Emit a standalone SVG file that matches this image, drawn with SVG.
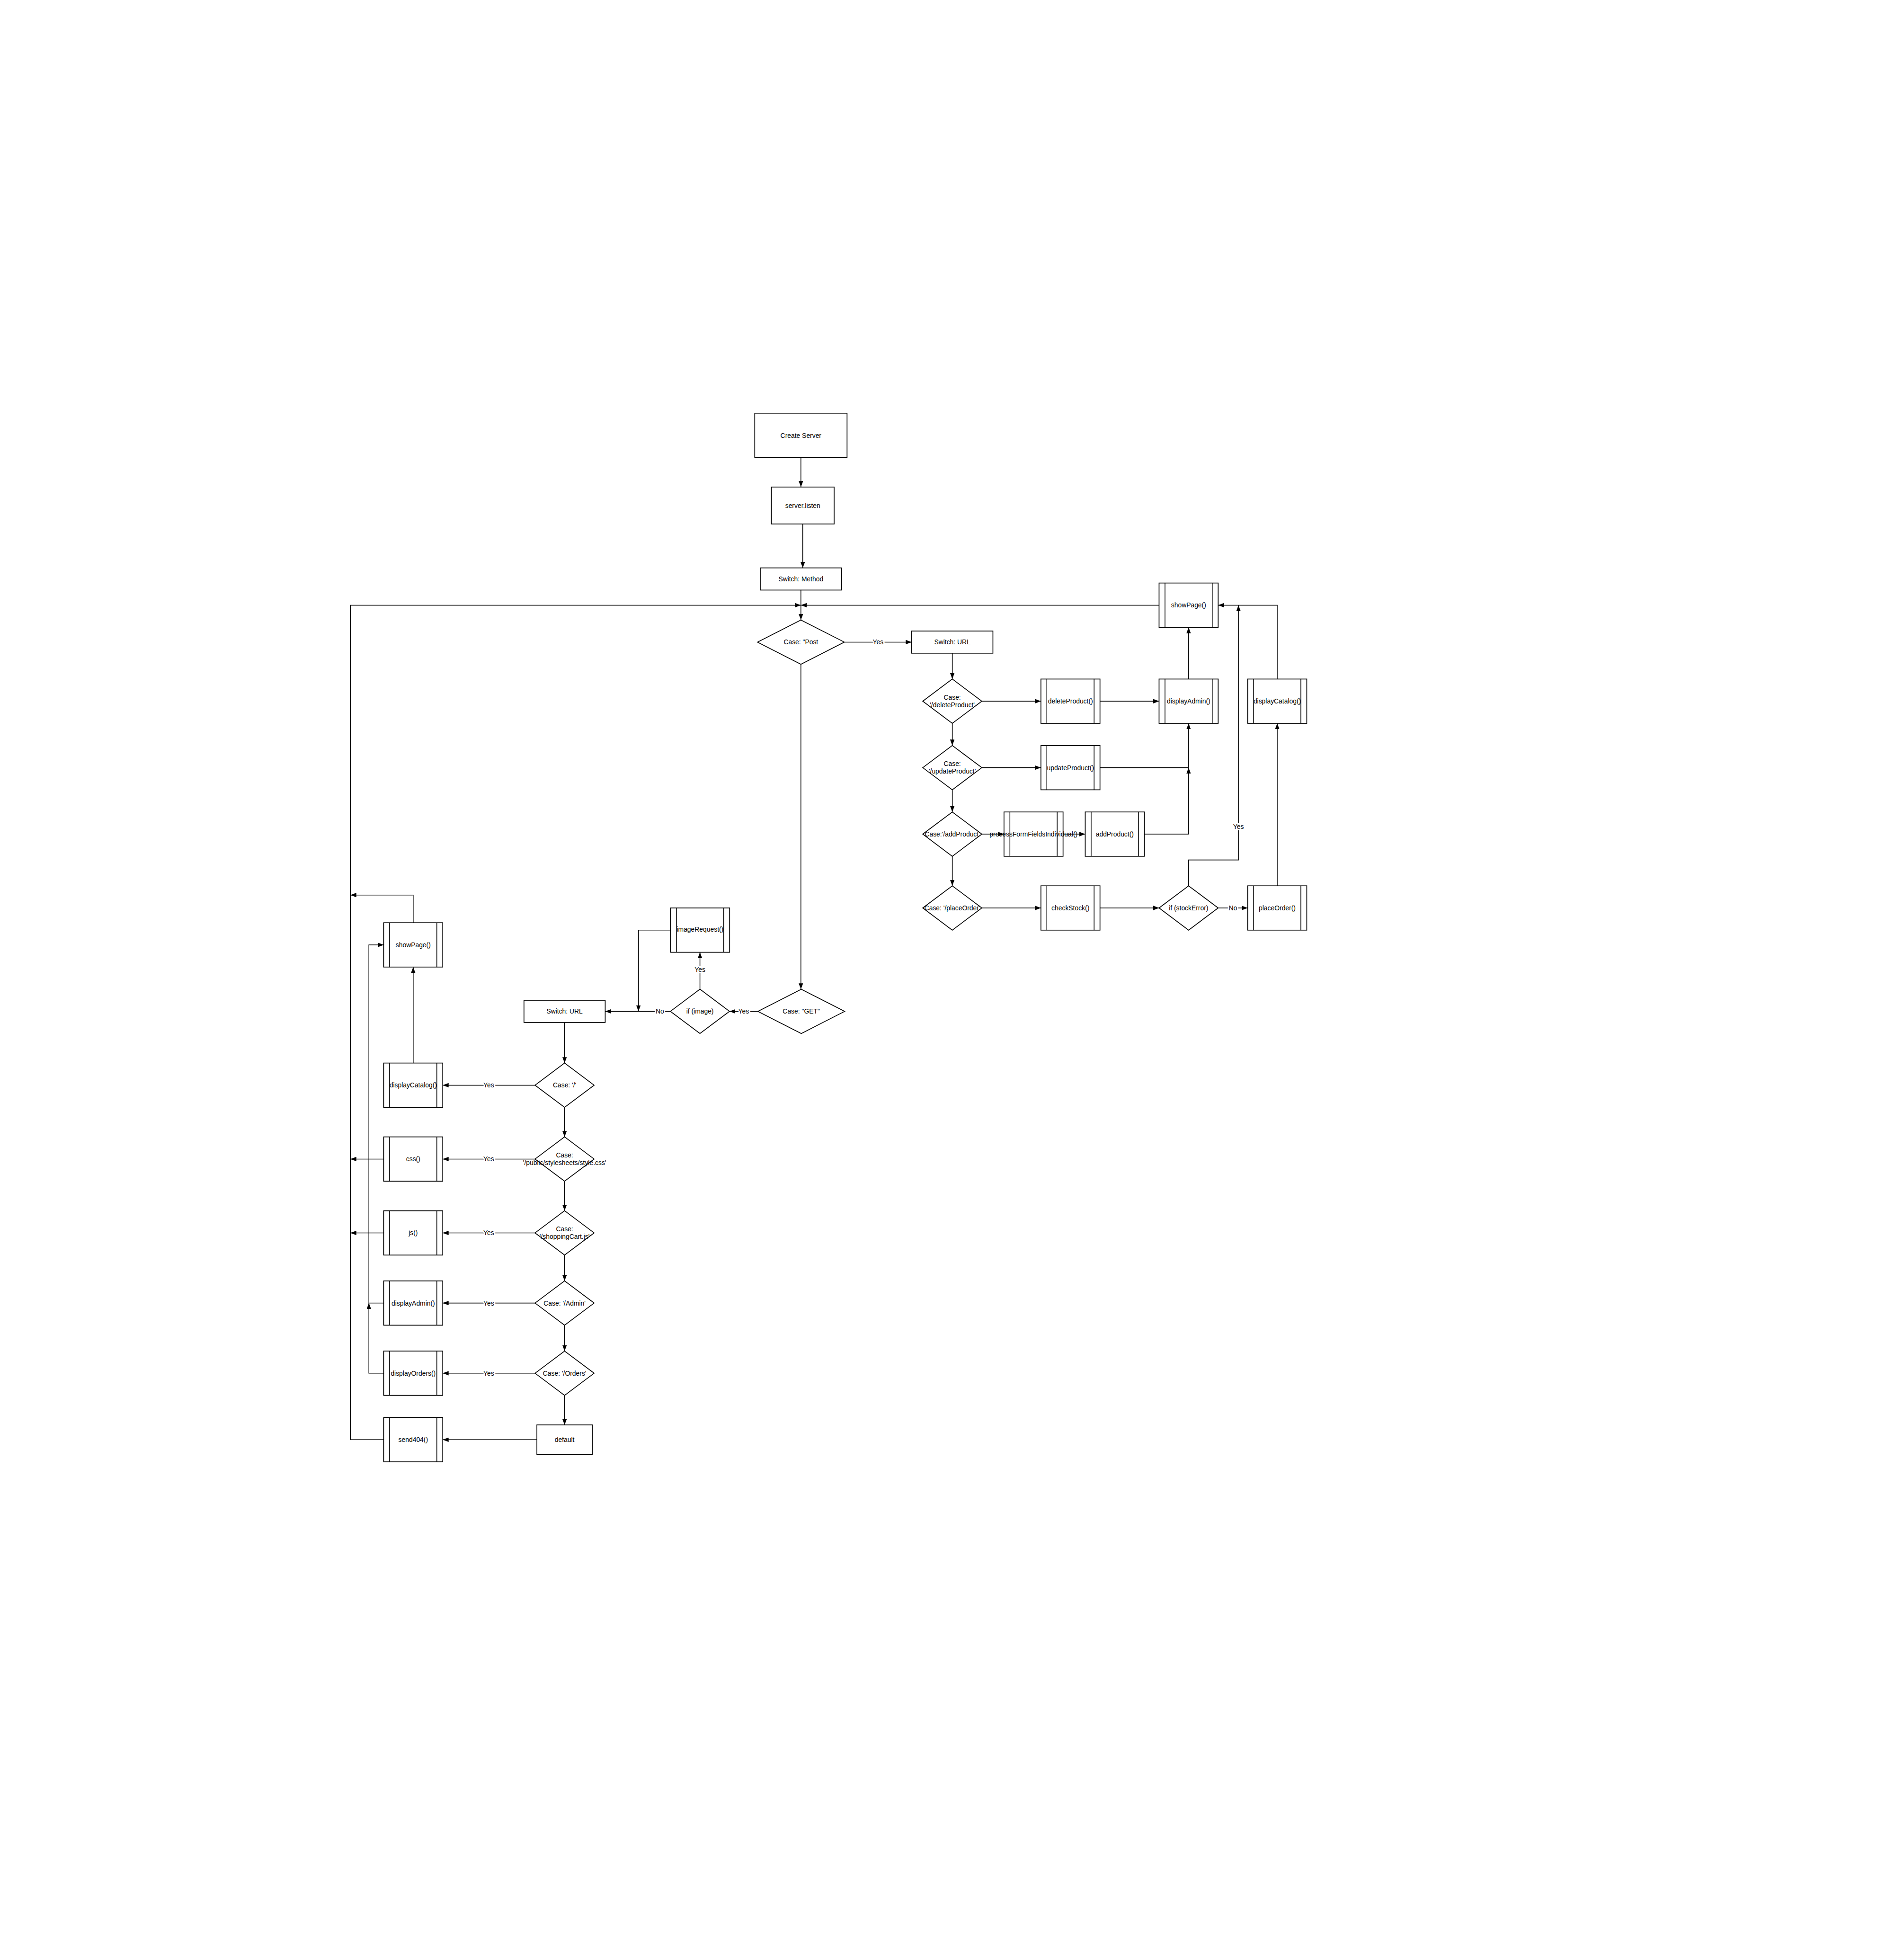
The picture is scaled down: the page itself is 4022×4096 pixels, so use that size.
<svg xmlns="http://www.w3.org/2000/svg" width="4022" height="4096" viewBox="0 0 4022 4096">
<defs>
<marker id="arr" viewBox="0 0 16 12" refX="16" refY="6" markerWidth="16" markerHeight="12" markerUnits="userSpaceOnUse" orient="auto"><path d="M0,0 L16,6 L0,12 z" fill="#000"/></marker>
<style>
.n{fill:#fff;stroke:#000;stroke-width:2.2}
.b{stroke:#000;stroke-width:2}
.c{fill:none;stroke:#000;stroke-width:2}
.a{marker-end:url(#arr)}
text{font-family:"Liberation Sans",Arial,sans-serif;font-size:17.8px;fill:#000;text-anchor:middle;dominant-baseline:central}
.l{stroke:#fff;stroke-width:7;paint-order:stroke}
</style>
</defs>
<rect width="4022" height="4096" fill="#fff"/>
<g transform="scale(0.78) translate(3,3)">
<g id="connectors">
<path class="c a" d="M2166,1236 V1316"/>
<path class="c a" d="M2171,1416 V1535"/>
<path class="c a" d="M2166,1595 V1676"/>
<path class="c a" d="M1036,3896 H946 V1636 H2166"/>
<path class="c a" d="M3136,1636 H2166"/>
<path class="c a" d="M2283.5,1736 H2466"/>
<path class="c a" d="M2576,1766 V1836"/>
<path class="c a" d="M2656,1896 H2816"/>
<path class="c a" d="M2976,1896 H3136"/>
<path class="c a" d="M3216,1836 V1696"/>
<path class="c a" d="M2576,1956 V2016"/>
<path class="c a" d="M2656,2076 H2816"/>
<path class="c" d="M2976,2076 H3216"/>
<path class="c a" d="M3096,2256 H3216 V2076"/>
<path class="c a" d="M3216,2076 V1956"/>
<path class="c a" d="M2576,2136 V2196"/>
<path class="c a" d="M2656,2256 H2716"/>
<path class="c a" d="M2876,2256 H2936"/>
<path class="c a" d="M2576,2316 V2396"/>
<path class="c a" d="M2656,2456 H2816"/>
<path class="c a" d="M2976,2456 H3136"/>
<path class="c a" d="M3296,2456 H3376"/>
<path class="c a" d="M3216,2396 V2326 H3351 V1636"/>
<path class="c a" d="M3456,2396 V1956"/>
<path class="c a" d="M3456,1836 V1636 H3296"/>
<path class="c a" d="M2166,1796 V2676"/>
<path class="c a" d="M2049.5,2736 H1972.6"/>
<path class="c a" d="M1892.6,2676 V2576"/>
<path class="c a" d="M1812.6,2736 H1636"/>
<path class="c a" d="M1813,2516 H1726 V2736"/>
<path class="c a" d="M1526,2766 V2876"/>
<path class="c a" d="M1446,2936 H1196"/>
<path class="c a" d="M1526,2996 V3076"/>
<path class="c a" d="M1446,3136 H1196"/>
<path class="c a" d="M1526,3196 V3276"/>
<path class="c a" d="M1446,3336 H1196"/>
<path class="c a" d="M1526,3396 V3466"/>
<path class="c a" d="M1446,3526 H1196"/>
<path class="c a" d="M1526,3586 V3656"/>
<path class="c a" d="M1446,3716 H1196"/>
<path class="c a" d="M1526,3776 V3856"/>
<path class="c a" d="M1451,3896 H1196"/>
<path class="c a" d="M1116,2876 V2616"/>
<path class="c a" d="M1116,2496 V2421 H946"/>
<path class="c a" d="M1036,3136 H946"/>
<path class="c a" d="M1036,3336 H946"/>
<path class="c a" d="M1036,3716 H996 V3526"/>
<path class="c a" d="M996,3526 V2556 H1036"/>
<path class="c" d="M1036,3526 H996"/>
<text class="l" x="2375" y="1736">Yes</text>
<text class="l" x="3336" y="2456">No</text>
<text class="l" x="3351" y="2235">Yes</text>
<text class="l" x="2011" y="2736">Yes</text>
<text class="l" x="1892.6" y="2623">Yes</text>
<text class="l" x="1784" y="2736">No</text>
<text class="l" x="1320.5" y="2936">Yes</text>
<text class="l" x="1320.5" y="3136">Yes</text>
<text class="l" x="1320.5" y="3336">Yes</text>
<text class="l" x="1320.5" y="3526">Yes</text>
<text class="l" x="1320.5" y="3716">Yes</text>
</g>
<g id="create_server"><rect class="n" x="2041" y="1116" width="250" height="120"/><text x="2166" y="1176">Create Server</text></g>
<g id="server_listen"><rect class="n" x="2086" y="1316" width="170" height="100"/><text x="2171" y="1366">server.listen</text></g>
<g id="switch_method"><rect class="n" x="2056" y="1535" width="220" height="60"/><text x="2166" y="1565">Switch: Method</text></g>
<g id="case_post"><polygon class="n" points="2048.5,1736 2166,1676 2283.5,1736 2166,1796"/><text x="2166" y="1736">Case: "Post</text></g>
<g id="switch_url_post"><rect class="n" x="2466" y="1706" width="220" height="60"/><text x="2576" y="1736">Switch: URL</text></g>
<g id="showpage_post"><rect class="n" x="3136" y="1576" width="160" height="120"/><path class="b" d="M3152,1576 V1696 M3280,1576 V1696"/><text x="3216" y="1636">showPage()</text></g>
<g id="case_delete"><polygon class="n" points="2496,1896 2576,1836 2656,1896 2576,1956"/><text x="2576" y="1885">Case:</text><text x="2576" y="1906">'/deleteProduct'</text></g>
<g id="delete_product"><rect class="n" x="2816" y="1836" width="160" height="120"/><path class="b" d="M2832,1836 V1956 M2960,1836 V1956"/><text x="2896" y="1896">deleteProduct()</text></g>
<g id="display_admin_post"><rect class="n" x="3136" y="1836" width="160" height="120"/><path class="b" d="M3152,1836 V1956 M3280,1836 V1956"/><text x="3216" y="1896">displayAdmin()</text></g>
<g id="display_catalog_post"><rect class="n" x="3376" y="1836" width="160" height="120"/><path class="b" d="M3392,1836 V1956 M3520,1836 V1956"/><text x="3456" y="1896">displayCatalog()</text></g>
<g id="case_update"><polygon class="n" points="2496,2076 2576,2016 2656,2076 2576,2136"/><text x="2576" y="2065">Case:</text><text x="2576" y="2086">'/updateProduct'</text></g>
<g id="update_product"><rect class="n" x="2816" y="2016" width="160" height="120"/><path class="b" d="M2832,2016 V2136 M2960,2016 V2136"/><text x="2896" y="2076">updateProduct()</text></g>
<g id="case_add"><polygon class="n" points="2496,2256 2576,2196 2656,2256 2576,2316"/><text x="2576" y="2256">Case:'/addProduct'</text></g>
<g id="process_form"><rect class="n" x="2716" y="2196" width="160" height="120"/><path class="b" d="M2732,2196 V2316 M2860,2196 V2316"/><text x="2796" y="2256">processFormFieldsIndividual()</text></g>
<g id="add_product"><rect class="n" x="2936" y="2196" width="160" height="120"/><path class="b" d="M2952,2196 V2316 M3080,2196 V2316"/><text x="3016" y="2256">addProduct()</text></g>
<g id="case_place"><polygon class="n" points="2496,2456 2576,2396 2656,2456 2576,2516"/><text x="2576" y="2456">Case: '/placeOrder'</text></g>
<g id="check_stock"><rect class="n" x="2816" y="2396" width="160" height="120"/><path class="b" d="M2832,2396 V2516 M2960,2396 V2516"/><text x="2896" y="2456">checkStock()</text></g>
<g id="if_stock"><polygon class="n" points="3136,2456 3216,2396 3296,2456 3216,2516"/><text x="3216" y="2456">if (stockError)</text></g>
<g id="place_order"><rect class="n" x="3376" y="2396" width="160" height="120"/><path class="b" d="M3392,2396 V2516 M3520,2396 V2516"/><text x="3456" y="2456">placeOrder()</text></g>
<g id="case_get"><polygon class="n" points="2049.5,2736 2167,2676 2284.5,2736 2167,2796"/><text x="2167" y="2736">Case: "GET"</text></g>
<g id="if_image"><polygon class="n" points="1812.6,2736 1892.6,2676 1972.6,2736 1892.6,2796"/><text x="1892.6" y="2736">if (image)</text></g>
<g id="image_request"><rect class="n" x="1813" y="2456" width="160" height="120"/><path class="b" d="M1829,2456 V2576 M1957,2456 V2576"/><text x="1893" y="2514">imageRequest()</text></g>
<g id="switch_url_get"><rect class="n" x="1416" y="2706" width="220" height="60"/><text x="1526" y="2736">Switch: URL</text></g>
<g id="case_root"><polygon class="n" points="1446,2936 1526,2876 1606,2936 1526,2996"/><text x="1526" y="2936">Case: '/'</text></g>
<g id="case_css"><polygon class="n" points="1446,3136 1526,3076 1606,3136 1526,3196"/><text x="1526" y="3125">Case:</text><text x="1526" y="3146">'/public/stylesheets/style.css'</text></g>
<g id="case_js"><polygon class="n" points="1446,3336 1526,3276 1606,3336 1526,3396"/><text x="1526" y="3325">Case:</text><text x="1526" y="3346">'/shoppingCart.js'</text></g>
<g id="case_admin"><polygon class="n" points="1446,3526 1526,3466 1606,3526 1526,3586"/><text x="1526" y="3526">Case: '/Admin'</text></g>
<g id="case_orders"><polygon class="n" points="1446,3716 1526,3656 1606,3716 1526,3776"/><text x="1526" y="3716">Case: '/Orders'</text></g>
<g id="default"><rect class="n" x="1451" y="3856" width="150" height="80"/><text x="1526" y="3896">default</text></g>
<g id="showpage_get"><rect class="n" x="1036" y="2496" width="160" height="120"/><path class="b" d="M1052,2496 V2616 M1180,2496 V2616"/><text x="1116" y="2556">showPage()</text></g>
<g id="display_catalog_get"><rect class="n" x="1036" y="2876" width="160" height="120"/><path class="b" d="M1052,2876 V2996 M1180,2876 V2996"/><text x="1116" y="2936">displayCatalog()</text></g>
<g id="css"><rect class="n" x="1036" y="3076" width="160" height="120"/><path class="b" d="M1052,3076 V3196 M1180,3076 V3196"/><text x="1116" y="3136">css()</text></g>
<g id="js"><rect class="n" x="1036" y="3276" width="160" height="120"/><path class="b" d="M1052,3276 V3396 M1180,3276 V3396"/><text x="1116" y="3336">js()</text></g>
<g id="display_admin_get"><rect class="n" x="1036" y="3466" width="160" height="120"/><path class="b" d="M1052,3466 V3586 M1180,3466 V3586"/><text x="1116" y="3526">displayAdmin()</text></g>
<g id="display_orders"><rect class="n" x="1036" y="3656" width="160" height="120"/><path class="b" d="M1052,3656 V3776 M1180,3656 V3776"/><text x="1116" y="3716">displayOrders()</text></g>
<g id="send404"><rect class="n" x="1036" y="3836" width="160" height="120"/><path class="b" d="M1052,3836 V3956 M1180,3836 V3956"/><text x="1116" y="3896">send404()</text></g>
</g>
</svg>
